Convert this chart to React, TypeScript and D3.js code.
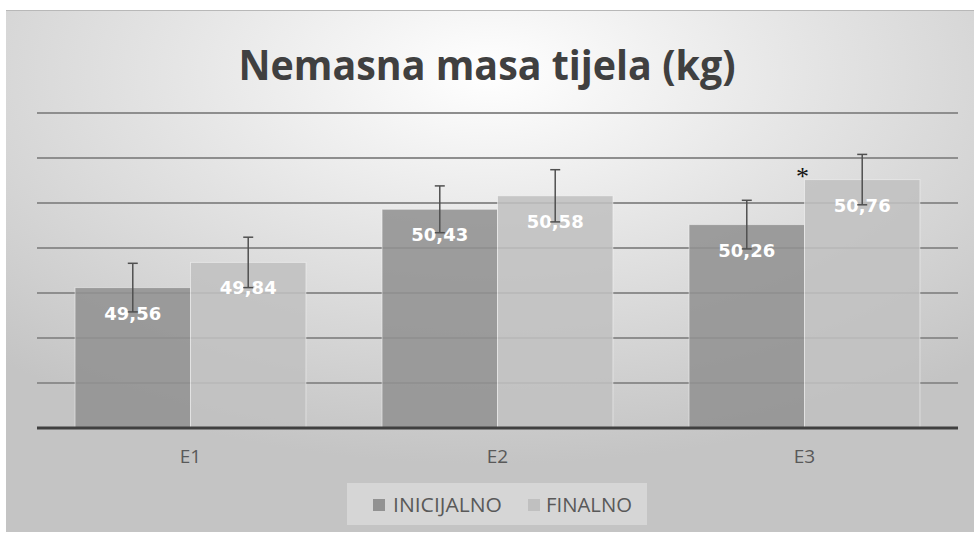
import React from "react";
import * as d3 from "d3";

const categories = ["E1", "E2", "E3"];
const seriesNames = ["INICIJALNO", "FINALNO"];
const inicijalno = [49.56, 50.43, 50.26];
const finalno = [49.84, 50.58, 50.76];
const inicijalnoErr = [0.27, 0.26, 0.27];
const finalnoErr = [0.28, 0.29, 0.28];
const yTicks = [48, 48.5, 49, 49.5, 50, 50.5, 51, 51.5];
const significant = [false, false, true]; // asterisk on FINALNO
const title = "Nemasna masa tijela (kg)";

const W = 974;
const H = 533;
const plotLeft = 37;
const plotRight = 958;
const seriesColors = ["#929292", "#c0c0c0"];

export default function App() {
  const x0 = d3.scaleBand<string>().domain(categories).range([plotLeft, plotRight]).padding(0);
  const bw0 = x0.bandwidth();
  const groupPad = bw0 * 0.124;
  const x1 = d3.scaleBand<string>().domain(seriesNames).range([groupPad, bw0 - groupPad]).padding(0);
  const y = d3.scaleLinear().domain([48, 51.5]).range([428, 113]);
  const values = [inicijalno, finalno];
  const errs = [inicijalnoErr, finalnoErr];
  const fmt = (v: number) => v.toFixed(2).replace(".", ",");

  return (
    <svg width={W} height={H} style={{ position: "absolute", left: 0, top: 0 }}>
      <defs>
        <radialGradient id="bg" cx="50%" cy="12%" r="75%" fx="50%" fy="12%">
          <stop offset="0%" stopColor="#ffffff" />
          <stop offset="45%" stopColor="#e4e4e4" />
          <stop offset="100%" stopColor="#c4c4c4" />
        </radialGradient>
      </defs>
      <rect x={0} y={0} width={W} height={H} fill="#ffffff" />
      <rect x={6} y={10} width={W - 6} height={522} fill="url(#bg)" />
      <line x1={6} x2={W} y1={10.5} y2={10.5} stroke="#b8b8b8" strokeWidth={1} />
      <text
        x={W / 2}
        y={80}
        textAnchor="middle"
        fontFamily="'Open Sans', 'Noto Sans', sans-serif"
        fontWeight={700}
        fontSize={41}
        fill="#404040"
        textLength={497}
        lengthAdjust="spacingAndGlyphs"
      >
        {title}
      </text>
      {yTicks.slice(1).map((t) => (
        <line key={t} x1={plotLeft} x2={plotRight} y1={y(t)} y2={y(t)} stroke="#8e8e8e" strokeWidth={2} />
      ))}
      {categories.map((c, ci) => (
        <g key={c} transform={`translate(${x0(c)},0)`}>
          {seriesNames.map((s, si) => {
            const v = values[si][ci];
            const bx = x1(s)!;
            return (
              <rect
                key={s}
                x={bx}
                y={y(v)}
                width={x1.bandwidth()}
                height={y(48) - y(v)}
                fill={seriesColors[si]}
                fillOpacity={0.88}
                stroke="rgba(255,255,255,0.45)"
                strokeWidth={1}
              />
            );
          })}
        </g>
      ))}
      <line x1={plotLeft} x2={plotRight} y1={y(48)} y2={y(48)} stroke="#404040" strokeWidth={3} />
      {categories.map((c, ci) =>
        seriesNames.map((s, si) => {
          const v = values[si][ci];
          const e = errs[si][ci];
          const cx = x0(c)! + x1(s)! + x1.bandwidth() / 2;
          return (
            <g key={c + s}>
              <text
                x={cx}
                y={y(v) + 32}
                textAnchor="middle"
                fontFamily="'DejaVu Sans', sans-serif"
                fontWeight={700}
                fontSize={18}
                fill="#ffffff"
              >
                {fmt(v)}
              </text>
              <g stroke="#505050" strokeWidth={1.5}>
                <line x1={cx} x2={cx} y1={y(v + e)} y2={y(v - e)} />
                <line x1={cx - 5} x2={cx + 5} y1={y(v + e)} y2={y(v + e)} />
                <line x1={cx - 5} x2={cx + 5} y1={y(v - e)} y2={y(v - e)} />
              </g>
            </g>
          );
        })
      )}
      {categories.map((c, ci) =>
        significant[ci] ? (
          <text
            key={"sig" + c}
            x={x0(c)! + x1("FINALNO")! - 2}
            y={185}
            textAnchor="middle"
            fontFamily="'Liberation Serif', serif"
            fontSize={26}
            fill="#111111"
          >
            *
          </text>
        ) : null
      )}
      {categories.map((c) => (
        <text
          key={"lab" + c}
          x={x0(c)! + bw0 / 2}
          y={463}
          textAnchor="middle"
          fontFamily="'Open Sans', 'Noto Sans', sans-serif"
          fontSize={19}
          fill="#595959"
        >
          {c}
        </text>
      ))}
      <rect x={347} y={483} width={300} height={42} fill="#ffffff" fillOpacity={0.3} />
      {[
        { x: 373, tx: 393, tl: 109 },
        { x: 528, tx: 546, tl: 86 },
      ].map((l, i) => (
        <g key={seriesNames[i]}>
          <rect x={l.x} y={499} width={12} height={12} fill={seriesColors[i]} />
          <text
            x={l.tx}
            y={512}
            fontFamily="'Open Sans', 'Noto Sans', sans-serif"
            fontSize={20}
            fill="#595959"
            textLength={l.tl}
            lengthAdjust="spacingAndGlyphs"
          >
            {seriesNames[i]}
          </text>
        </g>
      ))}
    </svg>
  );
}
